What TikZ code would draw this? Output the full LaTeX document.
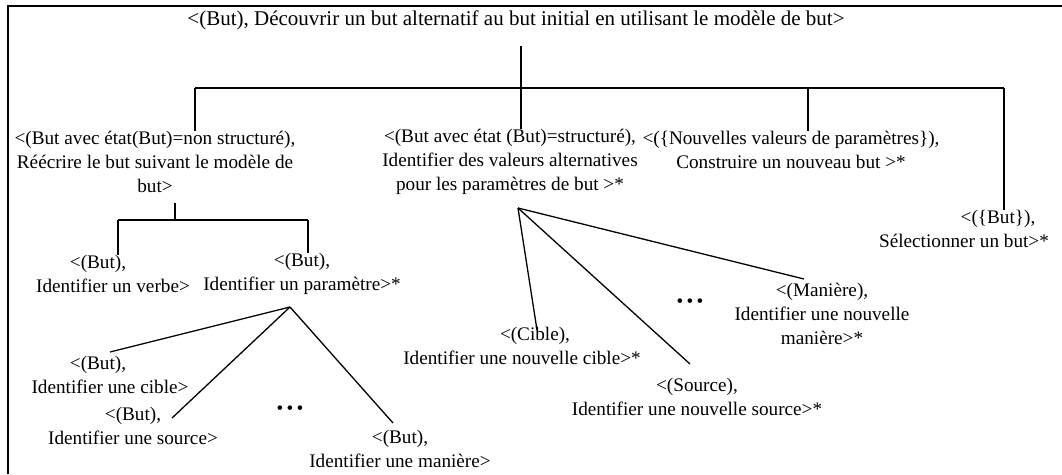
\documentclass[tikz,border=0pt]{standalone}
\usepackage{fontspec}
\setmainfont{Liberation Serif}
\begin{document}
\begin{tikzpicture}[x=1pt,y=-1pt,
  lbl/.style={align=center, inner sep=0pt, font=\fontsize{19.2}{24}\selectfont},
  frame/.style={line width=2.4pt},
  bar/.style={line width=2.6pt},
  stem/.style={line width=1.5pt},
  fan/.style={line width=1.3pt}]
\useasboundingbox (0,0) rectangle (1062,474);

% open frame: left and top edges
\draw[frame] (8,474) -- (8,6) -- (1062,6);

% root
\node[lbl, font=\fontsize{21}{24}\selectfont] (T) at (516,20) {<(But), Découvrir un but alternatif au but initial en utilisant le modèle de but>};

% first level
\node[lbl] (A) at (155,162) {<(But avec état(But)=non structuré),\\Réécrire le but suivant le modèle de\\but>};
\node[lbl] (B) at (510,162) {<(But avec état (But)=structuré),\\Identifier des valeurs alternatives\\pour les paramètres de but >*};
\node[lbl] (C) at (791,150) {<(\{Nouvelles valeurs de paramètres\}),\\Construire un nouveau but >*};
\node[lbl] (D) at (964,229) {\hspace*{68pt}<(\{But\}),\\Sélectionner un but>*};

% second level under A
\node[lbl] (A1) at (113,274) {<(But),\hspace*{30pt}\\Identifier un verbe>};
\node[lbl] (A2) at (302,274) {<(But),\\Identifier un paramètre>*};

% third level under A2
\node[lbl] (A21) at (110,375) {<(But),\hspace*{24pt}\\Identifier une cible>};
\node[lbl] (A22) at (133,426) {<(But),\\Identifier une source>};
\node[lbl] (A23) at (400,449) {<(But),\\Identifier une manière>};
\node[lbl] (dotsA) at (290,410) {\textbullet\,\textbullet\,\textbullet};

% second level under B
\node[lbl] (B1) at (522,346) {\hspace*{26pt}<(Cible),\\Identifier une nouvelle cible>*};
\node[lbl] (B2) at (697,397) {<(Source),\\Identifier une nouvelle source>*};
\node[lbl] (B3) at (822,314) {<(Manière),\\Identifier une nouvelle\\manière>*};
\node[lbl] (dotsB) at (690,303) {\textbullet\,\textbullet\,\textbullet};

% root decomposition (AND bar)
\coordinate (t0) at (521,46);
\coordinate (j0) at (521,88);
\coordinate (bl) at (195,88);
\coordinate (br) at (1004,88);
\coordinate (bc) at (808,88);
\draw[stem] (t0) -- (j0);
\draw[bar] (bl) -- (br);
\draw[stem] (bl) -- (bl |- A.north);
\draw[stem] (j0) -- (j0 |- B.north);
\draw[stem] (bc) -- (bc |- C.north);
\draw[bar] (br) -- (br |- D.north);

% decomposition of A (AND bar)
\coordinate (a0) at (175,203);
\coordinate (a1) at (175,220);
\coordinate (al) at (118,220);
\coordinate (ar) at (308,220);
\draw[stem] (a0) -- (a1);
\draw[bar] (al) -- (ar);
\draw[line width=2pt] (al) -- (al |- A1.north);
\draw[line width=2pt] (ar) -- (ar |- A2.north);

% alternatives of A2
\coordinate (p1) at (290,307);
\coordinate (e11) at (110,352);
\coordinate (e12) at (172,418);
\coordinate (e13) at (393,423);
\draw[fan] (p1) -- (e11);
\draw[fan] (p1) -- (e12);
\draw[fan] (p1) -- (e13);

% alternatives of B
\coordinate (p2) at (518,208);
\coordinate (e21) at (537,330);
\coordinate (e22) at (690,364);
\coordinate (e23) at (804,279);
\draw[fan] (p2) -- (e21);
\draw[fan] (p2) -- (e22);
\draw[fan] (p2) -- (e23);
\end{tikzpicture}
\end{document}
